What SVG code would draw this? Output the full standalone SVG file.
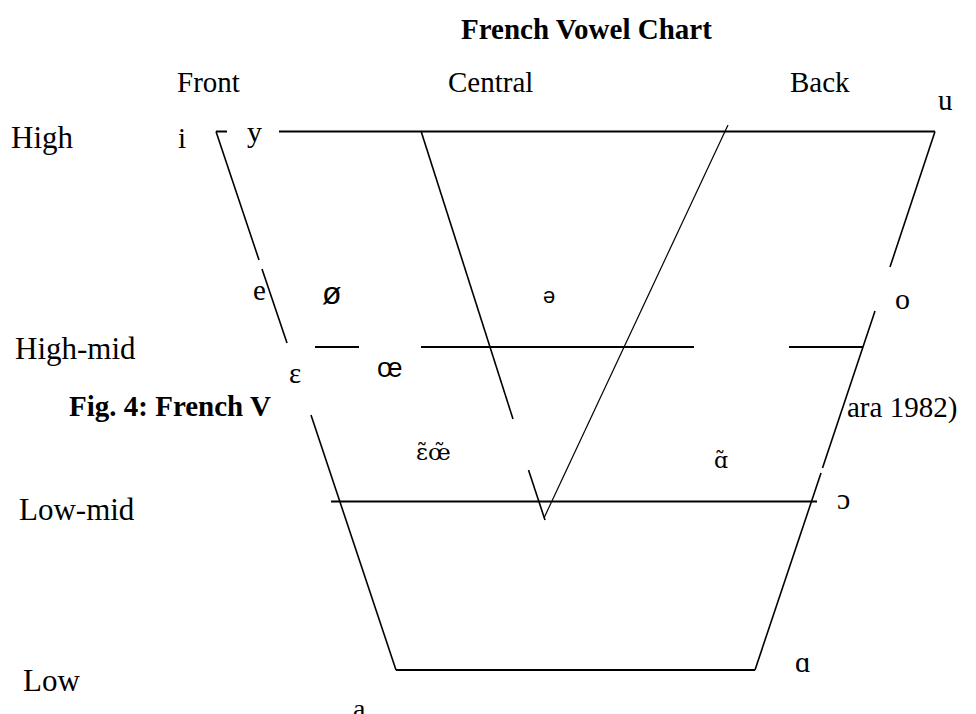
<svg xmlns="http://www.w3.org/2000/svg" width="976" height="714" viewBox="0 0 976 714">
<style>
.t{font-family:"Liberation Serif","DejaVu Serif",serif;fill:#000}
.dj{font-family:"DejaVu Serif","Liberation Serif",serif;fill:#000}
.s{font-family:"Liberation Sans","DejaVu Sans",sans-serif;fill:#000}
.b{font-weight:bold}
.h{stroke:#000;stroke-width:2;fill:none}
.d{stroke:#000;stroke-width:1.6;fill:none}
.thin{stroke:#000;stroke-width:1.2;fill:none}
</style>
<rect width="976" height="714" fill="#fff"/>
<g id="title"><text class="t b" x="461" y="39" font-size="29">French Vowel Chart</text></g>
<g id="col-labels" class="t" font-size="29">
<text x="177" y="92">Front</text>
<text x="448" y="92">Central</text>
<text x="790" y="92">Back</text>
</g>
<g id="row-labels" class="t" font-size="31">
<text x="11" y="148">High</text>
<text x="15" y="359">High-mid</text>
<text x="19" y="520">Low-mid</text>
<text x="23" y="691">Low</text>
</g>
<g id="caption" class="t" font-size="29">
<text class="b" x="69" y="416">Fig. 4: French V</text>
<text x="847" y="417">ara 1982)</text>
</g>
<g id="connectors">
<line class="h" x1="216" y1="131.5" x2="227" y2="131.5"/>
<line class="h" x1="279" y1="131.5" x2="935" y2="131.5"/>
<line class="d" x1="216" y1="131.5" x2="259" y2="260"/>
<line class="d" x1="262" y1="269" x2="287" y2="343"/>
<line class="d" x1="311" y1="415" x2="396" y2="670"/>
<line class="h" x1="396" y1="670" x2="755" y2="670"/>
<line class="d" x1="935" y1="131.5" x2="890" y2="267"/>
<line class="d" x1="875" y1="311" x2="822.5" y2="468"/>
<line class="d" x1="821" y1="473" x2="755" y2="670"/>
<line class="h" x1="315" y1="347" x2="359" y2="347"/>
<line class="h" x1="421" y1="347" x2="694" y2="347"/>
<line class="h" x1="789" y1="347" x2="863" y2="347"/>
<line class="h" x1="331" y1="501.5" x2="817" y2="501.5"/>
<line class="d" x1="421" y1="131" x2="513" y2="419"/>
<line class="d" x1="528.5" y1="470" x2="545" y2="520"/>
<line class="thin" x1="728" y1="125" x2="544" y2="518"/>
</g>
<g id="vowel-i"><text class="t" x="178" y="148" font-size="29">i</text></g>
<g id="vowel-y"><text class="t" x="247" y="142" font-size="30">y</text></g>
<g id="vowel-u"><text class="t" x="938" y="110" font-size="29">u</text></g>
<g id="vowel-e"><text class="t" x="253" y="300" font-size="29">e</text></g>
<g id="vowel-oslash"><text class="s" x="322" y="304" font-size="32">ø</text></g>
<g id="vowel-schwa"><text class="s" x="543" y="303" font-size="22">ə</text></g>
<g id="vowel-o"><text class="t" x="895" y="309" font-size="30">o</text></g>
<g id="vowel-epsilon"><text class="t" x="289" y="383" font-size="29">ε</text></g>
<g id="vowel-oe"><text class="s" x="377" y="377" font-size="27">œ</text></g>
<g id="vowel-nasal-front"><text class="dj" x="416" y="460" font-size="23">ɛ̃œ̃</text></g>
<g id="vowel-nasal-back"><text class="dj" x="714" y="468" font-size="22">ɑ̃</text></g>
<g id="vowel-open-o"><text class="t" x="837" y="509" font-size="30">ɔ</text></g>
<g id="vowel-alpha"><text class="t" x="795" y="672" font-size="30">ɑ</text></g>
<g id="vowel-a"><text class="t" x="353" y="718" font-size="28">a</text></g>
</svg>
